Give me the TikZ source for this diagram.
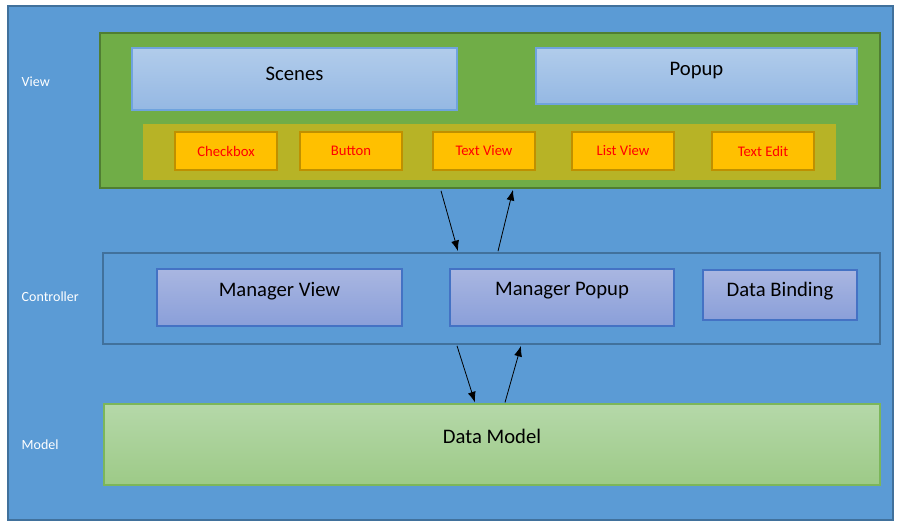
\documentclass[tikz,border=0pt]{standalone}
\usepackage{fontspec}
\setmainfont{Carlito}
\usetikzlibrary{fit,calc,arrows.meta}

\definecolor{bgblue}{HTML}{5B9BD5}
\definecolor{bgline}{HTML}{41719C}
\definecolor{viewgreen}{HTML}{70AD47}
\definecolor{viewline}{HTML}{507E32}
\definecolor{bandolive}{HTML}{B7B326}
\definecolor{btnfill}{HTML}{FFC000}
\definecolor{btnline}{HTML}{BF9000}
\definecolor{sceneline}{HTML}{6FA3DE}
\definecolor{scenetop}{HTML}{B1CCEB}
\definecolor{scenebot}{HTML}{95B8E3}
\definecolor{mgrline}{HTML}{4472C4}
\definecolor{mgrtop}{HTML}{A9B6E1}
\definecolor{mgrbot}{HTML}{8A9FD9}
\definecolor{modelline}{HTML}{7CB65A}
\definecolor{modeltop}{HTML}{B5D8A9}
\definecolor{modelbot}{HTML}{9DCA87}

\tikzset{
  frame/.style={inner sep=0pt, line width=1.2pt},
  screen/.style={frame, draw=sceneline, line width=0.8pt, top color=scenetop, bottom color=scenebot},
  widget/.style={frame, draw=btnline, fill=btnfill},
  manager/.style={frame, draw=mgrline, line width=0.8pt, top color=mgrtop, bottom color=mgrbot},
  caption/.style={anchor=center, font=\fontsize{15.5}{18}\selectfont},
  layername/.style={anchor=west, text=white, font=\fontsize{10.5}{12}\selectfont},
  arr/.style={-{Latex[length=8pt,width=6pt]}, line width=0.6pt}
}

\begin{document}
\begin{tikzpicture}[x=0.75pt,y=-0.75pt]
\useasboundingbox[fill=white] (0,0) rectangle (901,530);

\node[frame, draw=bgline, fill=bgblue, fit={(8,6) (893,520)}] (outer) {};

% layers
\node[frame, draw=viewline, fill=viewgreen, fit={(100,33) (880,188)}] (viewbox) {};
\node[frame, draw=bgline, fit={(103,253) (880,344)}] (ctrlbox) {};
\node[frame, draw=modelline, line width=0.8pt, top color=modeltop, bottom color=modelbot, fit={(104,404) (880,485)},
  label={[caption,yshift=-25pt]north:Data Model}] (modelbox) {};

\node[layername] (viewlbl) at (17,82) {View};
\node[layername] (ctrllbl) at (17,297) {Controller};
\node[layername] (modellbl) at (17,445) {Model};

% view
\node[screen, fit={(132,48) (457,110)}, label={[caption,yshift=-19.5pt]north:Scenes}] (scenes) {};
\node[screen, fit={(536,48) (857,104)}, label={[caption,yshift=-17.5pt]north:Popup}] (popup) {};
\node[inner sep=0pt, fill=bandolive, fit={(143,124) (836,180)}] (band) {};

\foreach \name/\xa/\txt in {chk/175/Checkbox, btn/300/Button, tv/433/Text View, lv/572/List View, te/712/Text Edit}{
  \node[widget, fit={(\xa,132) (\xa+102,170)}] (\name) {};
  \node[text=red, font=\fontsize{11}{13}\selectfont] at (\name) {\txt};
}

% controller
\node[manager, fit={(157,269) (402,326)}, label={[caption,yshift=-17pt]north:Manager View}] (mview) {};
\node[manager, fit={(450,269) (674,326)}, label={[caption,yshift=-17pt]north:Manager Popup}] (mpopup) {};
\node[manager, fit={(703,270) (857,320)}, label={[caption,yshift=-16.5pt]north:Data Binding}] (dbind) {};

% links
\draw[arr] ($(viewbox.south)+(-49,2)$) -- ($(ctrlbox.north)+(-33.5,-1)$);
\draw[arr] ($(ctrlbox.north)+(6.5,-1)$) -- ($(viewbox.south)+(23,1)$);
\draw[arr] ($(ctrlbox.south)+(-34.5,1)$) -- ($(modelbox.north)+(-17,-1)$);
\draw[arr] ($(modelbox.north)+(13,-1)$) -- ($(ctrlbox.south)+(29.5,1)$);

\end{tikzpicture}
\end{document}
